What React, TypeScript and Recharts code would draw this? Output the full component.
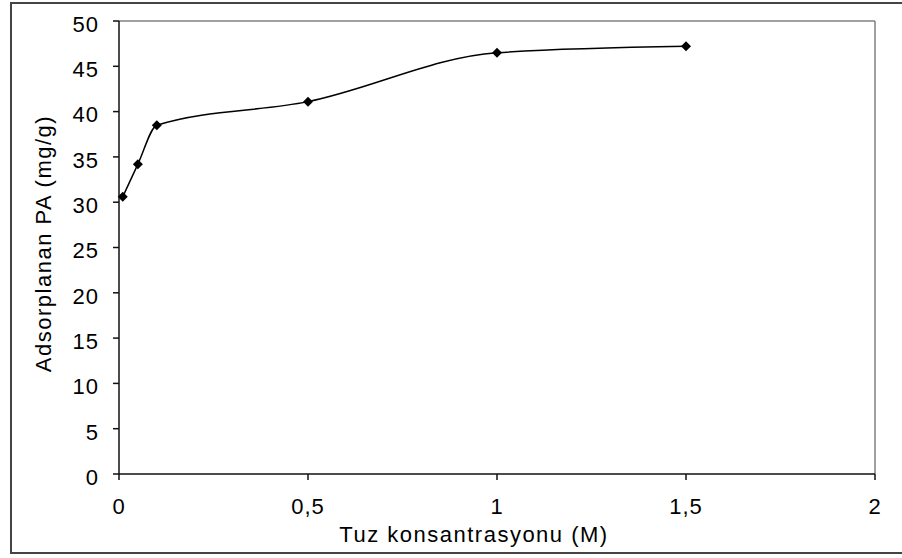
import { LineChart, Line, XAxis, YAxis, ReferenceLine, Label } from 'recharts'

const concentrations = [0.01, 0.05, 0.1, 0.5, 1, 1.5]
const adsorbed = [30.6, 34.2, 38.5, 41.1, 46.5, 47.2]
const xTicks = [0, 0.5, 1, 1.5, 2]
const yTicks = [0, 5, 10, 15, 20, 25, 30, 35, 40, 45, 50]

const data = concentrations.map((c, i) => ({ c, q: adsorbed[i] }))

const font = '"Liberation Sans", Arial, sans-serif'
const comma = (v: number) => String(v).replace('.', ',')

function Diamond(props: any) {
  const { cx, cy } = props
  if (cx == null || cy == null) return null
  const r = 5
  return (
    <polygon
      points={`${cx},${cy - r} ${cx + r},${cy} ${cx},${cy + r} ${cx - r},${cy}`}
      fill="#000"
    />
  )
}

function YTick(props: any) {
  const { x, y, payload } = props
  return (
    <text x={x} y={y + 3} dy="0.355em" textAnchor="end" fontSize={22} fontFamily={font} letterSpacing={1} fill="#000">
      {payload.value}
    </text>
  )
}

function XTick(props: any) {
  const { x, y, payload } = props
  return (
    <text x={x} y={y} dy="0.71em" textAnchor="middle" fontSize={22} fontFamily={font} letterSpacing={1} fill="#000">
      {comma(payload.value)}
    </text>
  )
}

export default function App() {
  return (
    <div style={{ position: 'absolute', left: 0, top: 0, width: 902, height: 558, background: '#fff', overflow: 'hidden' }}>
      <div
        style={{
          position: 'absolute',
          left: 10,
          top: 2,
          width: 920,
          height: 552,
          border: '2px solid #444',
          boxSizing: 'border-box',
        }}
      />
      <LineChart width={902} height={558} data={data} margin={{ top: 21, right: 27, left: 0, bottom: 0 }}>
        <XAxis
          dataKey="c"
          type="number"
          domain={[0, 2]}
          ticks={xTicks}
          height={84}
          tickSize={6}
          tickMargin={18}
          tick={<XTick />}
          axisLine={{ stroke: '#111', strokeWidth: 1.5 }}
          tickLine={{ stroke: '#111', strokeWidth: 1.5 }}
        >
          <Label
            content={(p: any) => {
              const vb = p.viewBox
              return (
                <text
                  x={vb.x + vb.width / 2 - 23}
                  y={vb.y + 68}
                  textAnchor="middle"
                  fontSize={22}
                  fontFamily={font}
                  letterSpacing={1.5}
                  fill="#000"
                >
                  Tuz konsantrasyonu (M)
                </text>
              )
            }}
          />
        </XAxis>
        <YAxis
          type="number"
          domain={[0, 50]}
          ticks={yTicks}
          width={119}
          tickSize={6}
          tickMargin={14}
          tick={<YTick />}
          axisLine={{ stroke: '#111', strokeWidth: 1.5 }}
          tickLine={{ stroke: '#111', strokeWidth: 1.5 }}
        >
          <Label
            content={(p: any) => {
              const vb = p.viewBox
              const cx = 43
              const cy = vb.y + vb.height / 2 - 4
              return (
                <text
                  x={cx}
                  y={cy}
                  transform={`rotate(-90 ${cx} ${cy})`}
                  textAnchor="middle"
                  dominantBaseline="central"
                  fontSize={22}
                  fontFamily={font}
                  letterSpacing={1.5}
                  fill="#000"
                >
                  Adsorplanan PA (mg/g)
                </text>
              )
            }}
          />
        </YAxis>
        <ReferenceLine y={50} stroke="#808080" strokeWidth={1.5} />
        <ReferenceLine x={2} stroke="#808080" strokeWidth={1.5} />
        <Line
          type="monotone"
          dataKey="q"
          stroke="#000"
          strokeWidth={1.5}
          dot={<Diamond />}
          activeDot={false}
          isAnimationActive={false}
        />
      </LineChart>
    </div>
  )
}
